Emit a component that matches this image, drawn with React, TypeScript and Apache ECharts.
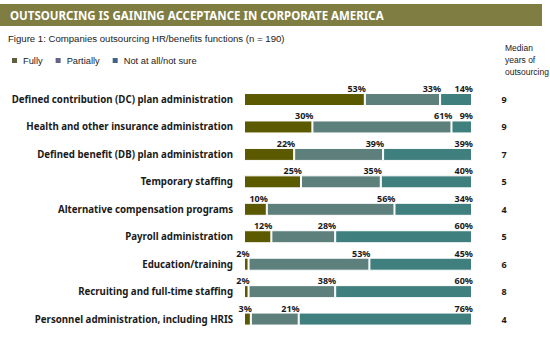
import React, { useEffect, useRef } from "react";
import * as echarts from "echarts";

const categories = [
  "Defined contribution (DC) plan administration",
  "Health and other insurance administration",
  "Defined benefit (DB) plan administration",
  "Temporary staffing",
  "Alternative compensation programs",
  "Payroll administration",
  "Education/training",
  "Recruiting and full-time staffing",
  "Personnel administration, including HRIS",
];
const fully = [53, 30, 22, 25, 10, 12, 2, 2, 3];
const partially = [33, 61, 39, 35, 56, 28, 53, 38, 21];
const notAtAll = [14, 9, 39, 40, 34, 60, 45, 60, 76];
const medianYears = [9, 9, 7, 5, 4, 5, 6, 8, 4];
const seriesNames = ["Fully", "Partially", "Not at all/not sure"];

const barColors = ["#5c5a00", "#5e807c", "#3f7f7d"];
const legendColors = ["#5f5f40", "#62628a", "#3f6488"];

export default function App() {
  const ref = useRef<HTMLDivElement>(null);
  useEffect(() => {
    document.body.style.margin = "0";
    const chart = echarts.init(ref.current!, null, { renderer: "svg" });
    const font = "Noto Sans";
    const small = "Liberation Sans";
    const label = {
      show: true,
      position: ["100%", 0] as any,
      align: "right",
      verticalAlign: "bottom",
      distance: 0,
      fontFamily: font,
      fontSize: 9,
      fontWeight: "bold",
      color: "#1a1a1a",
      formatter: "{c}%",
      offset: [1, 0],
    };
    const mk = (i: number, data: number[]) => ({
      name: seriesNames[i],
      type: "bar",
      stack: "total",
      data,
      barWidth: 13,
      itemStyle: { color: barColors[i], borderColor: "#ffffff", borderWidth: 1 },
      label,
    });
    chart.setOption({
      animation: false,
      backgroundColor: "#ffffff",
      textStyle: { fontFamily: font },
      graphic: [
        {
          type: "rect",
          shape: { x: 0, y: 4, width: 542, height: 22 },
          style: { fill: "#7f7d42" },
        },
        {
          type: "text",
          x: 10,
          y: 15,
          style: {
            text: "OUTSOURCING IS GAINING ACCEPTANCE IN CORPORATE AMERICA",
            fill: "#ffffff",
            font: `bold 11.5px ${font}`,
            verticalAlign: "middle",
          },
        },
        {
          type: "text",
          x: 8,
          y: 38,
          style: {
            text: "Figure 1: Companies outsourcing HR/benefits functions (n = 190)",
            fill: "#1a1a1a",
            font: `9.6px ${small}`,
            verticalAlign: "middle",
          },
        },
        {
          type: "text",
          x: 505,
          y: 42,
          style: {
            text: "Median\nyears of\noutsourcing",
            fill: "#1a1a1a",
            font: `8.5px ${small}`,
            lineHeight: 12,
            verticalAlign: "top",
          },
        },
      ],
      legend: {
        left: 10,
        top: 56,
        padding: 0,
        itemWidth: 7,
        itemHeight: 7,
        itemGap: 11,
        icon: "rect",
        textStyle: { fontFamily: small, fontSize: 9.3, color: "#1a1a1a" },
        data: seriesNames.map((n, i) => ({ name: n, itemStyle: { color: legendColors[i] } })),
      },
      grid: { left: 244, right: 78, top: 85.8, height: 247, containLabel: false },
      xAxis: { type: "value", min: 0, max: 100, show: false },
      yAxis: [
        {
          type: "category",
          data: categories,
          inverse: true,
          axisLine: { show: false },
          axisTick: { show: false },
          splitLine: { show: false },
          axisLabel: {
            margin: 11,
            fontFamily: font,
            fontSize: 9.7,
            fontWeight: "bold",
            color: "#1a1a1a",
          },
        },
        {
          type: "category",
          data: categories,
          inverse: true,
          position: "right",
          axisLine: { show: false },
          axisTick: { show: false },
          splitLine: { show: false },
          axisLabel: {
            margin: 32,
            align: "center",
            fontFamily: font,
            fontSize: 9,
            fontWeight: "bold",
            color: "#1a1a1a",
            formatter: (_v: string, idx: number) => String(medianYears[idx]),
          },
        },
      ],
      series: [mk(0, fully), mk(1, partially), mk(2, notAtAll)],
    });
    return () => chart.dispose();
  }, []);
  return <div ref={ref} style={{ width: 550, height: 360 }} />;
}
